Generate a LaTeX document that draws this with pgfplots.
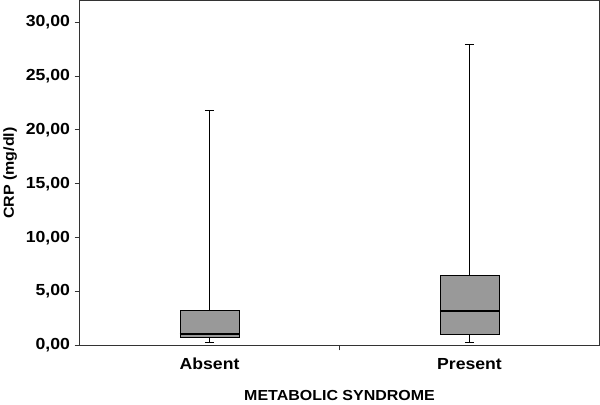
\documentclass[border=0pt]{standalone}
\usepackage{pgfplots}
\pgfplotsset{compat=1.18}
\usepgfplotslibrary{statistics}
\usepackage{fontspec}
\setmainfont[FakeStretch=1.1]{Liberation Sans}
\definecolor{boxgray}{HTML}{999999}
\newcommand{\lblfont}{\bfseries\fontsize{14.5}{16}\selectfont}
\newcommand{\tckfont}{\bfseries\fontsize{16}{18}\selectfont}
\begin{document}
\begin{tikzpicture}
\begin{axis}[
  scale only axis,
  width=517bp, height=343bp,
  xmin=0, xmax=2, ymin=0, ymax=32,
  axis line style={black!80, line width=1pt},
  tick align=outside, tick pos=left,
  major tick length=5bp,
  tick style={black!80, line width=0.8pt},
  ytick={0,5,...,30},
  /pgf/number format/fixed,
  /pgf/number format/fixed zerofill,
  /pgf/number format/precision=2,
  /pgf/number format/use comma,
  /pgf/number format/assume math mode=true,
  yticklabel style={font=\tckfont, xshift=-1bp},
  xtick={1}, xticklabels={},
  extra x ticks={0.5,1.5},
  extra x tick labels={Absent,Present},
  extra x tick style={major tick length=0pt, tick label style={font=\tckfont, yshift=-9bp}},
  xlabel={METABOLIC SYNDROME},
  ylabel={CRP (mg/dl)},
  label style={font=\lblfont},
  xlabel style={yshift=-9bp},
  ylabel style={yshift=2bp},
  boxplot/draw direction=y,
  boxplot/box extend=0.228,
  boxplot/whisker extend=0.035,
  boxplot/every median/.style={black, line width=2.2pt},
]
  \addplot+[black, line width=0.7pt, fill=boxgray, solid, mark=none,
    boxplot prepared={draw position=0.5, lower whisker=0.3, lower quartile=0.78,
      median=1.1, upper quartile=3.27, upper whisker=21.8}]
    coordinates {};
  \addplot+[black, line width=0.7pt, fill=boxgray, solid, mark=none,
    boxplot prepared={draw position=1.5, lower whisker=0.3, lower quartile=1.03,
      median=3.18, upper quartile=6.54, upper whisker=27.9}]
    coordinates {};
\end{axis}
\end{tikzpicture}
\end{document}
